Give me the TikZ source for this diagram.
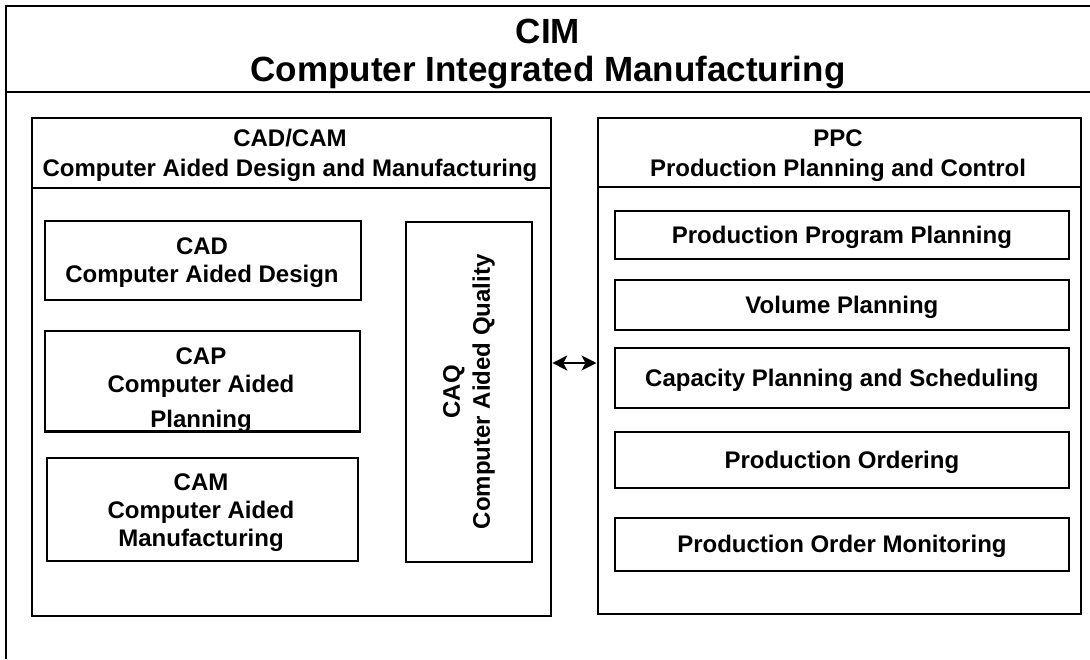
\documentclass[tikz,border=0pt]{standalone}
\usepackage{fontspec}
\setmainfont{Liberation Sans}
\usetikzlibrary{arrows.meta}
\begin{document}
\begin{tikzpicture}[x=1pt,y=-1pt,
  frame/.style={draw=black,line width=1.8pt},
  boxnode/.style={frame,rectangle,inner sep=0pt,anchor=north west},
  lbl/.style={font=\fontsize{24}{28}\selectfont\bfseries,inner sep=0pt,anchor=base},
  ttl/.style={font=\fontsize{35}{39}\selectfont\bfseries,inner sep=0pt,anchor=base},
  conn/.style={line width=1.8pt,{Stealth[length=15pt,width=15pt,inset=4pt]}-{Stealth[length=15pt,width=15pt,inset=4pt]},shorten <=0.5pt,shorten >=0.5pt}
]
\useasboundingbox (0,0) rectangle (1090,659);
% outer frame (open on the right and bottom)
\coordinate (o1) at (6,659);
\coordinate (o2) at (6,6);
\coordinate (o3) at (1090,6);
\coordinate (s1) at (6,92);
\coordinate (s2) at (1090,92);
\draw[frame] (o1) -- (o2) -- (o3);
\draw[frame] (s1) -- (s2);
\node[ttl] (cim) at (548,43) {CIM};
\node[ttl] (cimt) at (548,81) {Computer Integrated Manufacturing};

% CAD/CAM group
\node[boxnode,minimum width=519pt,minimum height=498pt] (cadcam) at (31,117) {};
\draw[frame] ([yshift=-71pt]cadcam.north west) -- ([yshift=-71pt]cadcam.north east);
\node[lbl] (cadcam1) at (290,146) {CAD/CAM};
\node[lbl] (cadcam2) at (290,176) {Computer Aided Design and Manufacturing};

\node[boxnode,minimum width=316pt,minimum height=79pt] (cad) at (44,220) {};
\node[lbl] (cad1) at (202,254) {CAD};
\node[lbl] (cad2) at (202,282) {Computer Aided Design};

\node[boxnode,minimum width=315pt,minimum height=100pt] (cap) at (44,330) {};
\node[lbl] (cap1) at (201,364) {CAP};
\node[lbl] (cap2) at (201,392) {Computer Aided};
\node[lbl] (cap3) at (201,427) {Planning};
\fill[white] ([yshift=-1pt]cap.south west) rectangle ([yshift=-9pt]cap.south east);
\draw[frame] (cap.south west) -- (cap.south east);

\node[boxnode,minimum width=311pt,minimum height=103pt] (cam) at (46,457) {};
\node[lbl] (cam1) at (201,490) {CAM};
\node[lbl] (cam2) at (201,518) {Computer Aided};
\node[lbl] (cam3) at (201,546) {Manufacturing};

\node[boxnode,minimum width=126pt,minimum height=340pt] (caq) at (405,221) {};
\node[font=\fontsize{24}{30}\selectfont\bfseries,inner sep=0pt,align=center,rotate=90] (caqt) at (caq.center) {CAQ\\Computer Aided Quality};

% PPC group
\node[boxnode,minimum width=483pt,minimum height=496pt] (ppc) at (597,117) {};
\draw[frame] ([yshift=-70pt]ppc.north west) -- ([yshift=-70pt]ppc.north east);
\node[lbl] (ppc1) at (838,146) {PPC};
\node[lbl] (ppc2) at (838,176) {Production Planning and Control};

\node[boxnode,minimum width=454pt,minimum height=48pt] (p1) at (614,210) {};
\node[lbl] (p1t) at (p1.center) [yshift=-8.5pt] {Production Program Planning};
\node[boxnode,minimum width=454pt,minimum height=50pt] (p2) at (614,279) {};
\node[lbl] (p2t) at (p2.center) [yshift=-8.5pt] {Volume Planning};
\node[boxnode,minimum width=454pt,minimum height=60pt] (p3) at (614,347) {};
\node[lbl] (p3t) at (p3.center) [yshift=-8.5pt] {Capacity Planning and Scheduling};
\node[boxnode,minimum width=454pt,minimum height=56pt] (p4) at (614,431) {};
\node[lbl] (p4t) at (p4.center) [yshift=-8.5pt] {Production Ordering};
\node[boxnode,minimum width=454pt,minimum height=53pt] (p5) at (614,517) {};
\node[lbl] (p5t) at (p5.center) [yshift=-8.5pt] {Production Order Monitoring};

% connector
\coordinate (al) at (cadcam.east |- 0,363);
\coordinate (ar) at (ppc.west |- 0,363);
\draw[conn] (al) -- (ar);
\end{tikzpicture}
\end{document}
